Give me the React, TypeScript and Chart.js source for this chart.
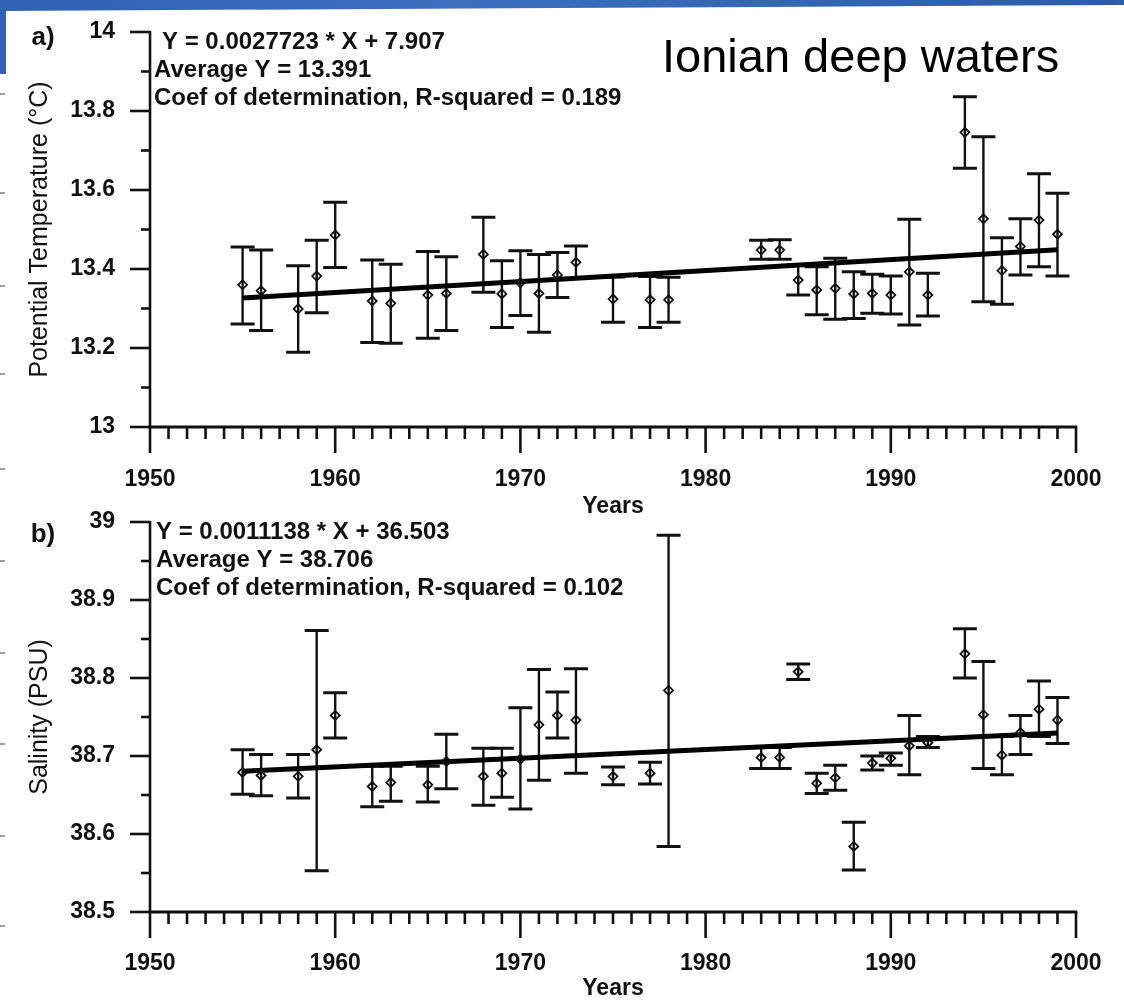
import React, { useEffect, useRef } from "react";
import { Chart, registerables } from "chart.js";

Chart.register(...registerables);

const FONT = "'Liberation Sans', Arial, Helvetica, sans-serif";

// ---------- data ----------
const YEARS = [
  1955, 1956, 1958, 1959, 1960, 1962, 1963, 1965, 1966, 1968, 1969, 1970,
  1971, 1972, 1973, 1975, 1977, 1978, 1983, 1984, 1985, 1986, 1987, 1988,
  1989, 1990, 1991, 1992, 1994, 1995, 1996, 1997, 1998, 1999,
];

const TEMP = [
  13.36, 13.345, 13.299, 13.382, 13.486, 13.319, 13.313, 13.334, 13.338, 13.437, 13.337, 13.365,
  13.338, 13.385, 13.417, 13.324, 13.322, 13.322, 13.448, 13.448, 13.372, 13.347, 13.351, 13.337,
  13.338, 13.334, 13.393, 13.334, 13.746, 13.527, 13.396, 13.457, 13.524, 13.488,
];
const TEMP_HI = [
  13.456, 13.448, 13.408, 13.473, 13.569, 13.423, 13.412, 13.444, 13.431, 13.531, 13.421, 13.446,
  13.437, 13.442, 13.458, 13.38, 13.381, 13.379, 13.473, 13.474, 13.41, 13.406, 13.427, 13.393,
  13.387, 13.382, 13.526, 13.389, 13.836, 13.735, 13.479, 13.527, 13.641, 13.592,
];
const TEMP_LO = [
  13.261, 13.244, 13.189, 13.289, 13.404, 13.214, 13.212, 13.225, 13.244, 13.341, 13.252, 13.282,
  13.24, 13.328, 13.376, 13.265, 13.252, 13.265, 13.425, 13.425, 13.334, 13.284, 13.273, 13.275,
  13.288, 13.286, 13.258, 13.281, 13.655, 13.317, 13.311, 13.385, 13.406, 13.382,
];

const SAL = [
  38.679, 38.675, 38.674, 38.708, 38.752, 38.661, 38.666, 38.663, 38.693, 38.674, 38.678, 38.696,
  38.74, 38.752, 38.746, 38.674, 38.678, 38.784, 38.698, 38.698, 38.808, 38.665, 38.672, 38.584,
  38.691, 38.697, 38.713, 38.717, 38.831, 38.753, 38.701, 38.73, 38.76, 38.746,
];
const SAL_HI = [
  38.708, 38.702, 38.702, 38.861, 38.781, 38.687, 38.687, 38.687, 38.728, 38.71, 38.71, 38.762,
  38.811, 38.782, 38.812, 38.686, 38.692, 38.983, 38.711, 38.711, 38.818, 38.678, 38.688, 38.615,
  38.7, 38.704, 38.752, 38.725, 38.863, 38.821, 38.725, 38.752, 38.796, 38.775,
];
const SAL_LO = [
  38.651, 38.649, 38.646, 38.553, 38.723, 38.635, 38.642, 38.641, 38.658, 38.637, 38.647, 38.632,
  38.669, 38.723, 38.678, 38.663, 38.664, 38.584, 38.684, 38.684, 38.798, 38.652, 38.656, 38.554,
  38.682, 38.688, 38.676, 38.711, 38.8, 38.684, 38.676, 38.702, 38.725, 38.716,
];

// regression fits as printed on the chart: [slope, intercept]
const TEMP_FIT = [0.0027723, 7.907];
const SAL_FIT = [0.0011138, 36.503];
const FIT_SPAN = [1955, 1999];

const X_RANGE = [1950, 2000];
const TEMP_RANGE = [13, 14];
const SAL_RANGE = [38.5, 39];

const TEMP_NOTES = [
  "Y = 0.0027723 * X + 7.907",
  "Average Y = 13.391",
  "Coef of determination, R-squared = 0.189",
];
const SAL_NOTES = [
  "Y = 0.0011138 * X + 36.503",
  "Average Y = 38.706",
  "Coef of determination, R-squared = 0.102",
];

const HEADING = "Ionian deep waters";

// ---------- panel specs ----------
type Spec = {
  years: number[];
  values: number[];
  hi: number[];
  lo: number[];
  fit: number[];
  yRange: number[];
  yStep: number;
  yMinor: number;
  yTitle: string;
  notes: string[];
  noteIndent: number[];
  label: string;
  labelDy: number;
  heading?: string;
  canvasTop: number;
  canvasHeight: number;
  padTop: number;
  xAxisHeight: number;
  xLabelPad: number;
};

const SPECS: Spec[] = [
  {
    years: YEARS,
    values: TEMP,
    hi: TEMP_HI,
    lo: TEMP_LO,
    fit: TEMP_FIT,
    yRange: TEMP_RANGE,
    yStep: 0.2,
    yMinor: 0.1,
    yTitle: "Potential Temperature (°C)",
    notes: TEMP_NOTES,
    noteIndent: [12, 4, 4],
    label: "a)",
    labelDy: 6,
    heading: HEADING,
    canvasTop: 0,
    canvasHeight: 520,
    padTop: 32,
    xAxisHeight: 93,
    xLabelPad: 39,
  },
  {
    years: YEARS,
    values: SAL,
    hi: SAL_HI,
    lo: SAL_LO,
    fit: SAL_FIT,
    yRange: SAL_RANGE,
    yStep: 0.1,
    yMinor: 0.05,
    yTitle: "Salinity (PSU)",
    notes: SAL_NOTES,
    noteIndent: [6, 6, 6],
    label: "b)",
    labelDy: 13,
    canvasTop: 505,
    canvasHeight: 497,
    padTop: 17,
    xAxisHeight: 90,
    xLabelPad: 38,
  },
];

function makePlugin(spec: Spec) {
  return {
    id: "panelDecor",
    beforeDatasetsDraw(chart: any) {
      const { ctx } = chart;
      const xs = chart.scales.x;
      const ys = chart.scales.y;
      ctx.save();
      ctx.strokeStyle = "#111";
      ctx.lineCap = "butt";
      spec.years.forEach((yr, i) => {
        const px = xs.getPixelForValue(yr);
        const ph = ys.getPixelForValue(spec.hi[i]);
        const pl = ys.getPixelForValue(spec.lo[i]);
        ctx.lineWidth = 2.4;
        ctx.beginPath();
        ctx.moveTo(px, ph);
        ctx.lineTo(px, pl);
        ctx.stroke();
        ctx.lineWidth = 3;
        ctx.beginPath();
        ctx.moveTo(px - 12, ph);
        ctx.lineTo(px + 12, ph);
        ctx.moveTo(px - 12, pl);
        ctx.lineTo(px + 12, pl);
        ctx.stroke();
      });
      ctx.restore();
    },
    afterDraw(chart: any) {
      const { ctx, chartArea: a } = chart;
      const xs = chart.scales.x;
      const ys = chart.scales.y;
      const left = a.left;
      const axisY = ys.getPixelForValue(spec.yRange[0]);
      const topY = ys.getPixelForValue(spec.yRange[1]);
      ctx.save();
      ctx.strokeStyle = "#111";
      ctx.lineCap = "butt";
      // y axis line + ticks
      ctx.lineWidth = 2.6;
      ctx.beginPath();
      ctx.moveTo(left, topY - 1);
      ctx.lineTo(left, axisY);
      ctx.stroke();
      const n = Math.round((spec.yRange[1] - spec.yRange[0]) / spec.yMinor);
      const majorEvery = Math.round(spec.yStep / spec.yMinor);
      for (let i = 0; i <= n; i++) {
        const py = ys.getPixelForValue(spec.yRange[0] + i * spec.yMinor);
        const len = i % majorEvery === 0 ? 20 : 9;
        ctx.beginPath();
        ctx.moveTo(left - len, py);
        ctx.lineTo(left, py);
        ctx.stroke();
      }
      // x axis line + ticks
      const right = xs.getPixelForValue(X_RANGE[1]);
      ctx.lineWidth = 3;
      ctx.beginPath();
      ctx.moveTo(left - 1.3, axisY);
      ctx.lineTo(right + 1.3, axisY);
      ctx.stroke();
      ctx.lineWidth = 2.6;
      for (let yr = X_RANGE[0]; yr <= X_RANGE[1]; yr++) {
        const px = xs.getPixelForValue(yr);
        const len = yr % 10 === 0 ? 26 : 12;
        ctx.beginPath();
        ctx.moveTo(px, axisY);
        ctx.lineTo(px, axisY + len);
        ctx.stroke();
      }
      // annotations
      ctx.fillStyle = "#111";
      ctx.textBaseline = "middle";
      ctx.textAlign = "left";
      ctx.font = `bold 24px ${FONT}`;
      spec.notes.forEach((t, i) => {
        ctx.fillText(t, left + spec.noteIndent[i], a.top + 10 + i * 28);
      });
      ctx.font = `bold 26px ${FONT}`;
      ctx.textAlign = "center";
      ctx.fillText(spec.label, 43, a.top + spec.labelDy);
      if (spec.heading) {
        ctx.font = `47px ${FONT}`;
        ctx.textAlign = "left";
        ctx.textBaseline = "alphabetic";
        ctx.fillStyle = "#000";
        ctx.fillText(spec.heading, 662, 72);
      }
      ctx.restore();
    },
  };
}

function buildConfig(spec: Spec): any {
  const fitLine = FIT_SPAN.map((x) => ({ x, y: spec.fit[0] * x + spec.fit[1] }));
  const tickFont = { family: FONT, size: 23, weight: "bold" as const };
  return {
    type: "scatter",
    data: {
      datasets: [
        {
          type: "scatter",
          data: spec.years.map((x, i) => ({ x, y: spec.values[i] })),
          pointStyle: "rectRot",
          pointRadius: 4.5,
          pointHoverRadius: 4.5,
          borderColor: "#111",
          backgroundColor: "rgba(255,255,255,0)",
          borderWidth: 1.8,
        },
        {
          type: "line",
          data: fitLine,
          borderColor: "#000",
          borderWidth: 5,
          pointRadius: 0,
          fill: false,
          tension: 0,
        },
      ],
    },
    options: {
      animation: false,
      responsive: false,
      maintainAspectRatio: false,
      events: [],
      layout: { padding: { top: spec.padTop, right: 48, left: 0, bottom: 0 } },
      plugins: { legend: { display: false }, tooltip: { enabled: false } },
      scales: {
        x: {
          type: "linear",
          min: X_RANGE[0],
          max: X_RANGE[1],
          grid: { display: false, drawTicks: false },
          border: { display: false },
          ticks: {
            stepSize: 10,
            autoSkip: false,
            maxRotation: 0,
            padding: spec.xLabelPad,
            color: "#111",
            font: tickFont,
            callback: (v: number) => String(Math.round(v)),
          },
          title: {
            display: true,
            text: "Years",
            color: "#111",
            font: tickFont,
            padding: { top: 0, bottom: 0 },
          },
          afterFit: (s: any) => {
            s.height = spec.xAxisHeight;
            s.paddingLeft = 0;
            s.paddingRight = 0;
            s.paddingTop = 0;
            s.paddingBottom = 0;
          },
        },
        y: {
          type: "linear",
          min: spec.yRange[0],
          max: spec.yRange[1],
          grid: { display: false, drawTicks: false },
          border: { display: false },
          ticks: {
            stepSize: spec.yStep,
            autoSkip: false,
            padding: 35,
            color: "#111",
            font: tickFont,
            callback: (v: number) => String(Number(Number(v).toFixed(2))),
          },
          title: {
            display: true,
            text: spec.yTitle,
            color: "#111",
            font: { family: FONT, size: 25, weight: "normal" },
            padding: { top: 25, bottom: 0 },
          },
          afterFit: (s: any) => {
            s.width = 150;
            s.paddingLeft = 0;
            s.paddingRight = 0;
            s.paddingTop = 0;
            s.paddingBottom = 0;
          },
        },
      },
    },
    plugins: [makePlugin(spec)],
  };
}

function Panel({ spec }: { spec: Spec }) {
  const ref = useRef<HTMLCanvasElement | null>(null);
  useEffect(() => {
    if (!ref.current) return;
    const chart = new Chart(ref.current, buildConfig(spec));
    return () => chart.destroy();
  }, [spec]);
  return (
    <canvas
      ref={ref}
      width={1124}
      height={spec.canvasHeight}
      style={{
        position: "absolute",
        left: 0,
        top: spec.canvasTop,
        width: 1124,
        height: spec.canvasHeight,
      }}
    />
  );
}

const EDGE_DASHES = [93, 192, 285, 373, 468, 560, 652, 743, 835, 925];

export default function App() {
  return (
    <div
      style={{
        position: "absolute",
        left: 0,
        top: 0,
        width: 1124,
        height: 1002,
        background: "#ffffff",
        overflow: "hidden",
      }}
    >
      <div
        style={{
          position: "absolute",
          left: 0,
          top: 0,
          width: 1124,
          height: 11,
          background: "linear-gradient(90deg, #2f62b0 0%, #3a70be 40%, #2c5ca8 100%)",
          clipPath: "polygon(0 0, 100% 0, 100% 45%, 0 100%)",
        }}
      />
      <div
        style={{
          position: "absolute",
          left: 0,
          top: 0,
          width: 6,
          height: 74,
          background: "#2f62b0",
        }}
      />
      {EDGE_DASHES.map((y) => (
        <div
          key={y}
          style={{
            position: "absolute",
            left: 0,
            top: y,
            width: 5,
            height: 2,
            background: "#a0a0a0",
          }}
        />
      ))}
      {SPECS.map((s, i) => (
        <Panel key={i} spec={s} />
      ))}
    </div>
  );
}
